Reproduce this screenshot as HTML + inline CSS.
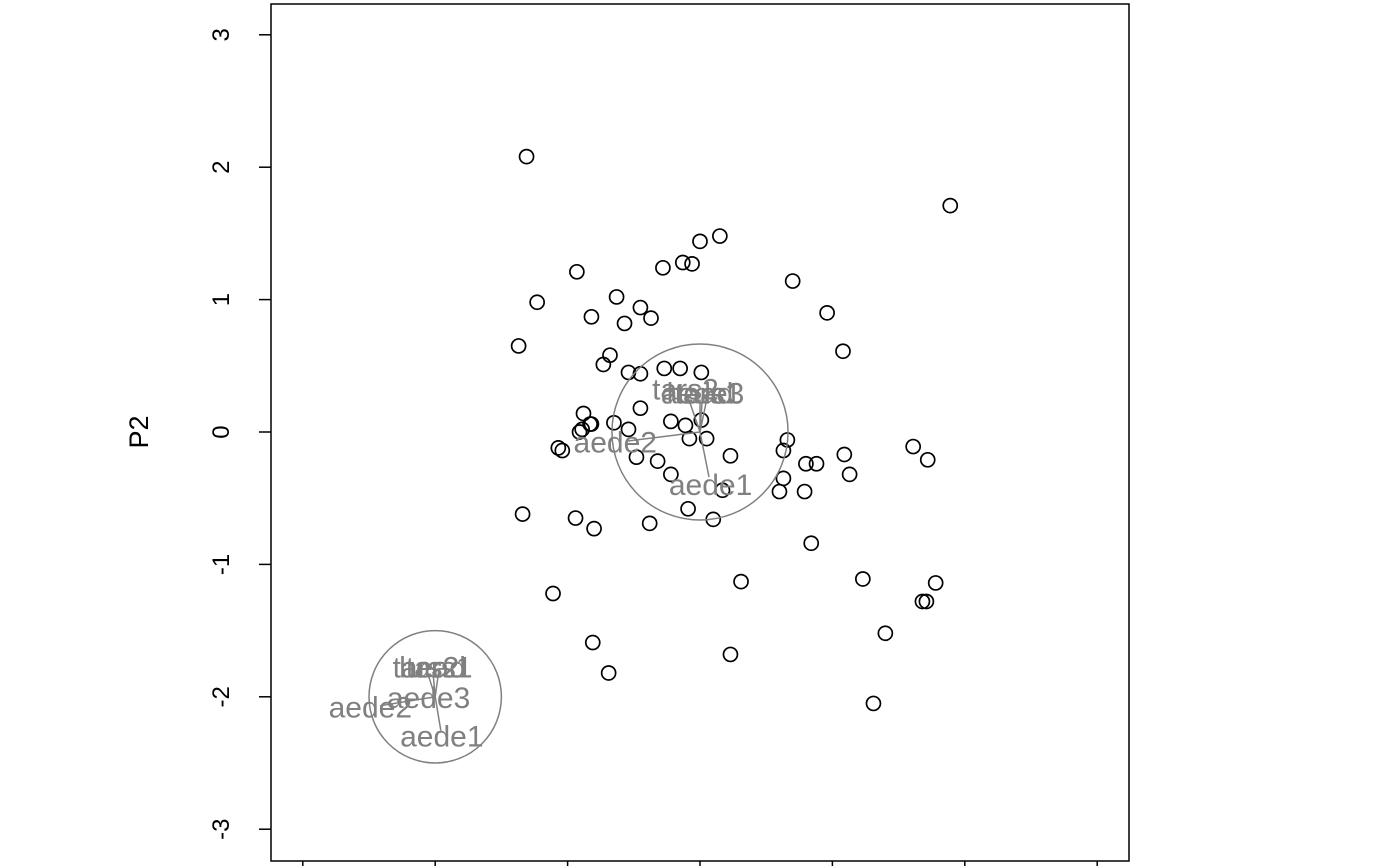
<!DOCTYPE html>
<html><head><meta charset="utf-8"><style>
html,body{margin:0;padding:0;background:#fff;}
svg{display:block;font-family:"Liberation Sans",Arial,sans-serif;}
</style></head><body>
<svg id="chart" width="1400" height="866" viewBox="0 0 1400 866">
<rect x="271" y="4" width="858" height="857" fill="none" stroke="#000" stroke-width="1.5"/>
<g id="axes"></g>
<g id="marks"></g>
<text x="148" y="432" font-size="27" text-anchor="middle" transform="rotate(-90 148 432)">P2</text>
</svg>
<script>
const ptX=[-1.31,1.89,0.15,0.00,-0.13,-0.06,-0.28,-0.93,0.70,-1.23,-0.63,-0.45,-0.37,-0.57,-0.82,0.96,-1.37,1.08,-0.68,-0.73,-0.27,-0.15,-0.54,-0.45,0.01,-0.88,-0.45,-0.22,-0.11,0.01,-0.65,-0.82,-0.83,-0.89,-0.91,-0.54,0.05,-0.08,-1.07,-1.04,-0.48,-0.32,0.66,0.63,0.23,0.80,0.88,1.09,1.13,1.61,1.72,-0.22,0.63,0.60,0.79,0.17,-0.09,0.10,-1.34,-0.94,-0.80,-0.38,0.84,0.31,1.23,1.78,-1.11,1.68,1.71,1.40,-0.81,0.23,-0.69,1.31];
const ptY=[2.08,1.71,1.48,1.44,1.28,1.27,1.24,1.21,1.14,0.98,1.02,0.94,0.86,0.82,0.87,0.90,0.65,0.61,0.58,0.51,0.48,0.48,0.45,0.44,0.45,0.14,0.18,0.08,0.05,0.09,0.07,0.06,0.06,0.02,0.00,0.02,-0.05,-0.05,-0.12,-0.14,-0.19,-0.22,-0.06,-0.14,-0.18,-0.24,-0.24,-0.17,-0.32,-0.11,-0.21,-0.32,-0.35,-0.45,-0.45,-0.44,-0.58,-0.66,-0.62,-0.65,-0.73,-0.69,-0.84,-1.13,-1.11,-1.14,-1.22,-1.28,-1.28,-1.52,-1.59,-1.68,-1.82,-2.05];
const yTicks=[-3,-2,-1,0,1,2,3];
const xTicks=[-3,-2,-1,0,1,2,3];
const loadNames=["aede1","aede2","aede3","tars2","head","tars1"];
const load1X=[0.08,-0.64,0.02,-0.11,0.00,0.06];
const load1Y=[-0.40,-0.08,0.29,0.32,0.29,0.29];
const load2X=[0.05,-0.49,-0.05,-0.07,-0.02,0.03];
const load2Y=[-0.30,-0.08,-0.01,0.22,0.22,0.22];
const circleCX=[0,-2];
const circleCY=[0,-2];
const circleR=[0.665,0.5];

const NS="http://www.w3.org/2000/svg";
const sx=v=>700+132.4*v;
const sy=v=>432-132.4*v;
const axes=document.getElementById('axes');
const marks=document.getElementById('marks');
function mk(tag,attrs,parent){const e=document.createElementNS(NS,tag);for(const k in attrs)e.setAttribute(k,attrs[k]);parent.appendChild(e);return e;}

yTicks.forEach(t=>{
  const l=mk('line',{x1:259,x2:271,y1:sy(t),y2:sy(t),stroke:'#000','stroke-width':1.5},axes);
  
  
  const tx=mk('text',{x:229,y:sy(t),'font-size':24,'text-anchor':'middle',transform:`rotate(-90 229 ${sy(t)})`},axes);
  tx.textContent=t;
  
  
});
xTicks.forEach(t=>{
  const l=mk('line',{x1:sx(t),x2:sx(t),y1:861,y2:873,stroke:'#000','stroke-width':1.5},axes);
  
  
});
ptX.forEach((x,i)=>{
  const c=mk('circle',{cx:sx(x),cy:sy(ptY[i]),r:7,fill:'none',stroke:'#000','stroke-width':1.7},marks);
  
  
});
function drawLoad(ci,LX,LY){
  const cx=circleCX[ci],cy=circleCY[ci];
  const c=mk('circle',{cx:sx(cx),cy:sy(cy),r:circleR[ci]*132.4,fill:'none',stroke:'#808080','stroke-width':1.5},marks);
  
  
  loadNames.forEach((n,i)=>{
    const l=mk('line',{x1:sx(cx),y1:sy(cy),x2:sx(cx+LX[i]*0.85),y2:sy(cy+LY[i]*0.85),stroke:'#808080','stroke-width':1.5},marks);
    
    
    const t=mk('text',{x:sx(cx+LX[i]),y:sy(cy+LY[i])+10,'font-size':30,fill:'#808080','text-anchor':'middle'},marks);
    t.textContent=n;
    
    
  });
}
drawLoad(0,load1X,load1Y);
drawLoad(1,load2X,load2Y);
</script>
</body></html>
